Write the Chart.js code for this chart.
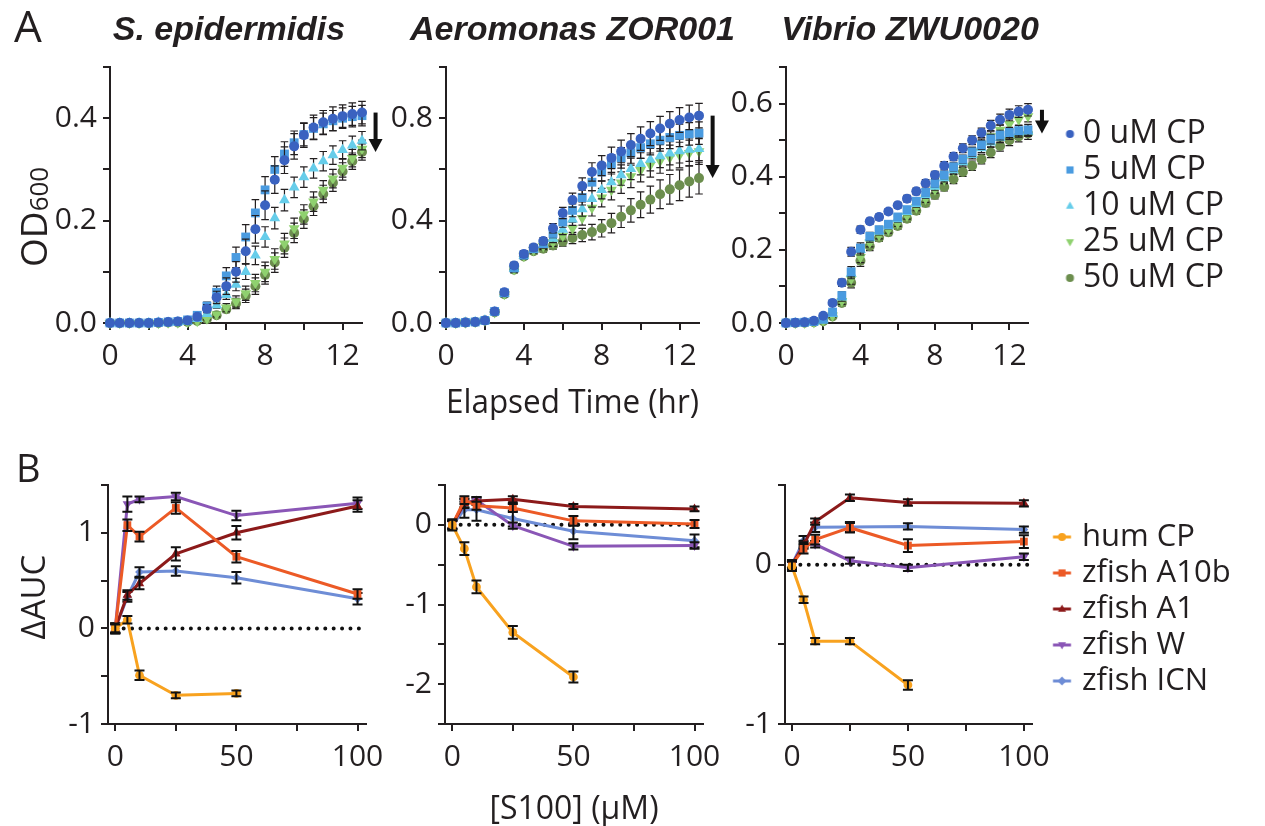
<!DOCTYPE html>
<html lang="en">
  <head>
    <meta charset="UTF-8" />
    <title>S100 growth curves and dAUC</title>
    <script src="https://cdn.jsdelivr.net/npm/chart.js"></script>
    <style>
      body { margin: 0; background: #fff; }
      #fig { position: relative; width: 1265px; height: 826px; }
      #fig canvas { position: absolute; }
    </style>
  </head>
  <body>
    <div id="fig">
      <canvas id="gEpi" width="400" height="420" style="left:0;top:0"></canvas>
      <canvas id="gAero" width="360" height="420" style="left:380px;top:0"></canvas>
      <canvas id="gVib" width="545" height="420" style="left:720px;top:0"></canvas>
      <canvas id="aEpi" width="400" height="406" style="left:0;top:420px"></canvas>
      <canvas id="aAero" width="360" height="406" style="left:380px;top:420px"></canvas>
      <canvas id="aVib" width="545" height="406" style="left:720px;top:420px"></canvas>
    </div>

    <script>
      // ---- growth curves (OD600 vs hours) ----
      const hours = [0, 0.5, 1, 1.5, 2, 2.5, 3, 3.5, 4, 4.5, 5, 5.5, 6, 6.5, 7, 7.5, 8, 8.5, 9, 9.5, 10, 10.5, 11, 11.5, 12, 12.5, 13];

      const epi0 = [0, 0, 0, 0, 0, 0.001, 0.002, 0.003, 0.005, 0.012, 0.028, 0.05, 0.072, 0.1, 0.14, 0.183, 0.23, 0.28, 0.318, 0.345, 0.367, 0.382, 0.392, 0.399, 0.404, 0.408, 0.411];
      const epi5 = [0, 0, 0, 0, 0, 0.001, 0.002, 0.003, 0.006, 0.015, 0.033, 0.06, 0.092, 0.128, 0.168, 0.215, 0.26, 0.3, 0.33, 0.352, 0.368, 0.38, 0.389, 0.395, 0.4, 0.403, 0.405];
      const epi10 = [0, 0, 0, 0, 0, 0.001, 0.001, 0.002, 0.003, 0.008, 0.018, 0.035, 0.055, 0.075, 0.1, 0.132, 0.168, 0.205, 0.24, 0.265, 0.285, 0.302, 0.316, 0.328, 0.338, 0.347, 0.356];
      const epi25 = [0, 0, 0, 0, 0, 0, 0.001, 0.001, 0.002, 0.004, 0.009, 0.017, 0.03, 0.042, 0.058, 0.078, 0.1, 0.125, 0.155, 0.185, 0.212, 0.237, 0.26, 0.282, 0.303, 0.322, 0.34];
      const epi50 = [0, 0, 0, 0, 0, 0, 0.001, 0.001, 0.002, 0.004, 0.008, 0.015, 0.027, 0.038, 0.053, 0.072, 0.094, 0.118, 0.147, 0.176, 0.203, 0.228, 0.252, 0.274, 0.296, 0.316, 0.334];
      const epi0Err = [0, 0, 0, 0, 0, 0, 0, 0.001, 0.002, 0.004, 0.008, 0.012, 0.016, 0.02, 0.024, 0.027, 0.028, 0.027, 0.026, 0.025, 0.024, 0.024, 0.023, 0.023, 0.022, 0.022, 0.022];
      const epi5Err = [0, 0, 0, 0, 0, 0, 0, 0.001, 0.002, 0.004, 0.008, 0.012, 0.016, 0.02, 0.024, 0.026, 0.026, 0.025, 0.024, 0.023, 0.022, 0.021, 0.021, 0.02, 0.02, 0.02, 0.02];
      const epi10Err = [0, 0, 0, 0, 0, 0, 0, 0, 0.001, 0.002, 0.004, 0.006, 0.009, 0.012, 0.015, 0.018, 0.02, 0.021, 0.021, 0.02, 0.02, 0.019, 0.019, 0.018, 0.018, 0.018, 0.018];
      const epi25Err = [0, 0, 0, 0, 0, 0, 0, 0, 0.001, 0.002, 0.003, 0.005, 0.008, 0.011, 0.014, 0.017, 0.019, 0.02, 0.02, 0.02, 0.019, 0.019, 0.018, 0.018, 0.018, 0.017, 0.017];
      const epi50Err = [0, 0, 0, 0, 0, 0, 0, 0, 0.001, 0.002, 0.003, 0.005, 0.007, 0.01, 0.013, 0.016, 0.018, 0.019, 0.019, 0.019, 0.018, 0.018, 0.017, 0.017, 0.017, 0.016, 0.016];

      const aero0 = [0, 0, 0.002, 0.004, 0.01, 0.045, 0.12, 0.225, 0.27, 0.295, 0.32, 0.37, 0.43, 0.48, 0.535, 0.59, 0.615, 0.645, 0.67, 0.695, 0.72, 0.74, 0.76, 0.778, 0.793, 0.803, 0.81];
      const aero5 = [0, 0, 0.002, 0.004, 0.01, 0.045, 0.118, 0.215, 0.265, 0.29, 0.31, 0.35, 0.395, 0.44, 0.49, 0.55, 0.59, 0.62, 0.645, 0.665, 0.685, 0.7, 0.714, 0.725, 0.733, 0.739, 0.742];
      const aero10 = [0, 0, 0.002, 0.004, 0.01, 0.043, 0.115, 0.212, 0.263, 0.288, 0.305, 0.33, 0.365, 0.405, 0.445, 0.485, 0.52, 0.55, 0.578, 0.602, 0.622, 0.638, 0.652, 0.663, 0.671, 0.677, 0.68];
      const aero25 = [0, 0, 0.002, 0.004, 0.01, 0.042, 0.113, 0.21, 0.262, 0.285, 0.3, 0.315, 0.34, 0.37, 0.41, 0.45, 0.49, 0.52, 0.548, 0.573, 0.597, 0.617, 0.633, 0.646, 0.656, 0.664, 0.67];
      const aero50 = [0, 0, 0.002, 0.004, 0.01, 0.042, 0.112, 0.208, 0.26, 0.28, 0.29, 0.303, 0.318, 0.332, 0.344, 0.355, 0.37, 0.39, 0.415, 0.44, 0.462, 0.482, 0.503, 0.522, 0.538, 0.553, 0.566];
      const aero0Err = [0, 0, 0, 0, 0.002, 0.006, 0.01, 0.012, 0.012, 0.012, 0.014, 0.018, 0.022, 0.027, 0.032, 0.036, 0.039, 0.042, 0.044, 0.045, 0.046, 0.047, 0.047, 0.048, 0.048, 0.048, 0.048];
      const aero5Err = [0, 0, 0, 0, 0.002, 0.006, 0.01, 0.012, 0.012, 0.012, 0.014, 0.017, 0.021, 0.025, 0.029, 0.033, 0.036, 0.038, 0.04, 0.041, 0.042, 0.043, 0.043, 0.044, 0.044, 0.044, 0.044];
      const aero10Err = [0, 0, 0, 0, 0.002, 0.006, 0.01, 0.012, 0.012, 0.012, 0.013, 0.016, 0.02, 0.024, 0.028, 0.032, 0.035, 0.038, 0.04, 0.042, 0.043, 0.044, 0.045, 0.045, 0.046, 0.046, 0.046];
      const aero25Err = [0, 0, 0, 0, 0.002, 0.006, 0.01, 0.012, 0.012, 0.012, 0.013, 0.016, 0.02, 0.024, 0.028, 0.032, 0.036, 0.039, 0.042, 0.044, 0.046, 0.047, 0.048, 0.049, 0.05, 0.05, 0.05];
      const aero50Err = [0, 0, 0, 0, 0.002, 0.006, 0.01, 0.012, 0.012, 0.012, 0.013, 0.015, 0.018, 0.022, 0.026, 0.03, 0.034, 0.038, 0.042, 0.046, 0.05, 0.053, 0.056, 0.058, 0.06, 0.061, 0.062];

      const vib0 = [0, 0.001, 0.002, 0.006, 0.02, 0.055, 0.11, 0.195, 0.255, 0.278, 0.29, 0.305, 0.322, 0.34, 0.36, 0.382, 0.405, 0.43, 0.455, 0.478, 0.5, 0.52, 0.54, 0.556, 0.569, 0.578, 0.583];
      const vib5 = [0, 0.001, 0.002, 0.004, 0.01, 0.03, 0.075, 0.14, 0.205, 0.237, 0.255, 0.27, 0.29, 0.31, 0.333, 0.357, 0.382, 0.405, 0.427, 0.448, 0.468, 0.487, 0.503, 0.514, 0.521, 0.526, 0.528];
      const vib10 = [0, 0, 0.001, 0.003, 0.008, 0.025, 0.07, 0.135, 0.2, 0.232, 0.25, 0.265, 0.284, 0.304, 0.326, 0.35, 0.373, 0.396, 0.418, 0.44, 0.46, 0.478, 0.494, 0.506, 0.515, 0.521, 0.524];
      const vib25 = [0, 0, 0.001, 0.002, 0.006, 0.02, 0.06, 0.12, 0.18, 0.22, 0.24, 0.255, 0.273, 0.293, 0.316, 0.34, 0.365, 0.392, 0.418, 0.444, 0.468, 0.49, 0.51, 0.528, 0.544, 0.556, 0.565];
      const vib50 = [0, 0, 0.001, 0.002, 0.005, 0.018, 0.055, 0.11, 0.17, 0.21, 0.233, 0.248, 0.265, 0.285, 0.307, 0.328, 0.35, 0.372, 0.393, 0.413, 0.43, 0.448, 0.466, 0.484, 0.5, 0.51, 0.518];
      const vib0Err = [0, 0, 0, 0.001, 0.003, 0.006, 0.01, 0.012, 0.01, 0.008, 0.008, 0.008, 0.008, 0.009, 0.009, 0.01, 0.01, 0.011, 0.011, 0.012, 0.012, 0.013, 0.014, 0.015, 0.016, 0.016, 0.017];
      const vib5Err = [0, 0, 0, 0.001, 0.002, 0.005, 0.01, 0.014, 0.014, 0.011, 0.009, 0.008, 0.008, 0.008, 0.009, 0.009, 0.01, 0.01, 0.011, 0.011, 0.012, 0.012, 0.013, 0.013, 0.014, 0.014, 0.015];
      const vib10Err = [0, 0, 0, 0.001, 0.002, 0.005, 0.01, 0.014, 0.014, 0.011, 0.009, 0.008, 0.008, 0.008, 0.009, 0.009, 0.01, 0.01, 0.01, 0.011, 0.011, 0.012, 0.012, 0.013, 0.013, 0.013, 0.014];
      const vib25Err = [0, 0, 0, 0.001, 0.002, 0.004, 0.009, 0.014, 0.015, 0.012, 0.01, 0.009, 0.009, 0.009, 0.009, 0.01, 0.01, 0.011, 0.011, 0.012, 0.012, 0.013, 0.013, 0.014, 0.014, 0.015, 0.015];
      const vib50Err = [0, 0, 0, 0.001, 0.002, 0.004, 0.009, 0.014, 0.015, 0.012, 0.01, 0.009, 0.009, 0.009, 0.01, 0.01, 0.011, 0.011, 0.012, 0.012, 0.013, 0.013, 0.014, 0.014, 0.015, 0.015, 0.016];

      // ---- delta AUC vs [S100] ----
      const conc = [0, 5, 10, 25, 50, 100];

      const epiHum = [0, 0.09, -0.49, -0.7, -0.68, null];
      const epiA10b = [0, 1.08, 0.96, 1.26, 0.75, 0.36];
      const epiA1 = [0, 0.35, 0.47, 0.78, 1.0, 1.28];
      const epiW = [0, 1.3, 1.35, 1.38, 1.18, 1.31];
      const epiIcn = [0, 0.33, 0.59, 0.6, 0.53, 0.31];
      const epiHumErr = [0.04, 0.04, 0.05, 0.03, 0.03, null];
      const epiA10bErr = [0.05, 0.06, 0.05, 0.06, 0.06, 0.05];
      const epiA1Err = [0.05, 0.05, 0.06, 0.07, 0.07, 0.06];
      const epiWErr = [0.05, 0.08, 0.03, 0.04, 0.05, 0.06];
      const epiIcnErr = [0.05, 0.05, 0.05, 0.05, 0.06, 0.06];

      const aeroHum = [0, -0.3, -0.78, -1.35, -1.91, null];
      const aeroA10b = [0, 0.31, 0.24, 0.21, 0.05, 0.01];
      const aeroA1 = [0, 0.27, 0.3, 0.32, 0.23, 0.2];
      const aeroW = [0, 0.27, 0.31, -0.01, -0.27, -0.26];
      const aeroIcn = [0, 0.19, 0.19, 0.08, -0.08, -0.2];
      const aeroHumErr = [0.07, 0.08, 0.08, 0.08, 0.07, null];
      const aeroA10bErr = [0.05, 0.05, 0.05, 0.05, 0.06, 0.05];
      const aeroA1Err = [0.05, 0.06, 0.05, 0.04, 0.03, 0.03];
      const aeroWErr = [0.05, 0.05, 0.04, 0.04, 0.04, 0.04];
      const aeroIcnErr = [0.05, 0.1, 0.14, 0.1, 0.1, 0.08];

      const vibHum = [-0.01, -0.22, -0.48, -0.48, -0.755, null];
      const vibA10b = [0, 0.1, 0.157, 0.232, 0.12, 0.145];
      const vibA1 = [0, 0.12, 0.27, 0.42, 0.39, 0.385];
      const vibW = [0, 0.13, 0.128, 0.025, -0.02, 0.05];
      const vibIcn = [0, 0.15, 0.235, 0.237, 0.24, 0.22];
      const vibHumErr = [0.03, 0.02, 0.02, 0.02, 0.03, null];
      const vibA10bErr = [0.03, 0.03, 0.03, 0.03, 0.04, 0.04];
      const vibA1Err = [0.02, 0.02, 0.02, 0.02, 0.02, 0.02];
      const vibWErr = [0.02, 0.02, 0.02, 0.02, 0.02, 0.02];
      const vibIcnErr = [0.03, 0.03, 0.03, 0.03, 0.02, 0.02];

      // ---- ticks and labels ----
      const hourTicks = [0, 2, 4, 6, 8, 10, 12];
      const hourLabels = ["0", "", "4", "", "8", "", "12"];
      const epiTicks = [0, 0.1, 0.2, 0.3, 0.4, 0.5];
      const epiLabels = ["0.0", "", "0.2", "", "0.4", ""];
      const aeroTicks = [0, 0.2, 0.4, 0.6, 0.8, 1.0];
      const aeroLabels = ["0.0", "", "0.4", "", "0.8", ""];
      const vibTicks = [0, 0.1, 0.2, 0.3, 0.4, 0.5, 0.6, 0.7];
      const vibLabels = ["0.0", "", "0.2", "", "0.4", "", "0.6", ""];
      const concTicks = [0, 25, 50, 75, 100];
      const concLabels = ["0", "", "50", "", "100"];
      const aucEpiTicks = [-1, -0.5, 0, 0.5, 1, 1.5];
      const aucEpiLabels = ["-1", "", "0", "", "1", ""];
      const aucAeroTicks = [-2.5, -2, -1.5, -1, -0.5, 0, 0.5];
      const aucAeroLabels = ["", "-2", "", "-1", "", "0", ""];
      const aucVibTicks = [-1, -0.5, 0, 0.5];
      const aucVibLabels = ["-1", "", "0", ""];

      const cpNames = ["0 uM CP", "5 uM CP", "10 uM CP", "25 uM CP", "50 uM CP"];
      const cpColors = ["#3a62c0", "#4a9be0", "#66cdea", "#8fd16f", "#6c8e4e"];
      const cpMarkers = ["circle", "rect", "triangle", "triangleDown", "circle"];
      const s100Names = ["hum CP", "zfish A10b", "zfish A1", "zfish W", "zfish ICN"];
      const s100Colors = ["#f8a21f", "#ec5a26", "#8c1a1a", "#8a56b6", "#6e8dd6"];
      const s100Markers = ["circle", "rect", "triangle", "triangleDown", "rectRot"];

      const FONT = '"Open Sans", "Liberation Sans", sans-serif';
      const TITLE_FONT = '"Liberation Sans", Arial, sans-serif';
      const INK = "#231f20";

      Chart.defaults.font.family = FONT;
      Chart.defaults.color = INK;
      Chart.defaults.animation = false;
      Chart.defaults.plugins.tooltip.enabled = false;
      Chart.defaults.plugins.legend.display = false;

      // error bars, drawn under (growth) or over (AUC) each dataset
      function errorBars(opt) {
        function draw(chart, index) {
          const ds = chart.data.datasets[index];
          const meta = chart.getDatasetMeta(index);
          const y = chart.scales.y;
          const ctx = chart.ctx;
          ctx.save();
          ctx.strokeStyle = opt.color;
          ctx.lineWidth = opt.width;
          ctx.beginPath();
          meta.data.forEach((pt, i) => {
            const v = ds.data[i].y;
            const e = ds.errors[i];
            if (v === null || !e) return;
            const t = y.getPixelForValue(v + e);
            const b = y.getPixelForValue(v - e);
            ctx.moveTo(pt.x, t); ctx.lineTo(pt.x, b);
            ctx.moveTo(pt.x - opt.cap, t); ctx.lineTo(pt.x + opt.cap, t);
            ctx.moveTo(pt.x - opt.cap, b); ctx.lineTo(pt.x + opt.cap, b);
          });
          ctx.stroke();
          ctx.restore();
        }
        return {
          id: "errorBars",
          beforeDatasetDraw(chart, args) { if (!opt.above) draw(chart, args.index); },
          afterDatasetDraw(chart, args) { if (opt.above) draw(chart, args.index); },
        };
      }

      // dotted line at y = 0
      const zeroLine = {
        id: "zeroLine",
        beforeDatasetsDraw(chart) {
          const { ctx, chartArea, scales } = chart;
          const py = scales.y.getPixelForValue(0);
          ctx.save();
          ctx.setLineDash([0, 8.4]);
          ctx.lineCap = "round";
          ctx.lineWidth = 4;
          ctx.strokeStyle = "#111";
          ctx.beginPath();
          ctx.moveTo(scales.x.getPixelForValue(0), py);
          ctx.lineTo(chartArea.right, py);
          ctx.stroke();
          ctx.restore();
        },
      };

      // arrow from the highest to the lowest end point
      function dropArrow(dx) {
        return {
          id: "dropArrow",
          afterDraw(chart) {
            const ends = chart.data.datasets.map((ds) => ds.data[ds.data.length - 1]);
            const vals = ends.map((p) => p.y);
            const { x, y } = chart.scales;
            const px = x.getPixelForValue(ends[0].x + dx);
            const y1 = y.getPixelForValue(Math.max(...vals));
            const y2 = y.getPixelForValue(Math.min(...vals));
            const head = Math.min(13, y2 - y1);
            const ctx = chart.ctx;
            ctx.save();
            ctx.fillStyle = "#111";
            ctx.fillRect(px - 2, y1, 4, y2 - y1 - head + 1);
            ctx.beginPath();
            ctx.moveTo(px - 7, y2 - head);
            ctx.lineTo(px + 7, y2 - head);
            ctx.lineTo(px, y2);
            ctx.closePath();
            ctx.fill();
            ctx.restore();
          },
        };
      }

      // free text: panel letters, panel titles and y-axis titles
      function figText(items) {
        return {
          id: "figText",
          afterDraw(chart) {
            const ctx = chart.ctx;
            const fontOf = (p) => (p.style ? p.style + " " : "") + p.size + "px " + (p.family || FONT);
            items.forEach((item) => {
              ctx.save();
              ctx.translate(item.x, item.y);
              if (item.rotate) ctx.rotate(-Math.PI / 2);
              ctx.fillStyle = INK;
              ctx.textBaseline = "alphabetic";
              ctx.textAlign = "left";
              let total = 0;
              item.parts.forEach((p) => {
                ctx.font = fontOf(p);
                total += ctx.measureText(p.text).width;
              });
              let cx = item.align === "center" ? -total / 2 : 0;
              item.parts.forEach((p) => {
                ctx.font = fontOf(p);
                ctx.fillText(p.text, cx, p.dy || 0);
                cx += ctx.measureText(p.text).width;
              });
              ctx.restore();
            });
          },
        };
      }
      const titleText = (text, x) => ({
        x: x, y: 40, align: "center",
        parts: [{ text: text, size: 34, style: "italic bold", family: TITLE_FONT }],
      });

      function markerPath(g, style, x, y, r) {
        g.beginPath();
        if (style === "circle") {
          g.arc(x, y, r, 0, Math.PI * 2);
        } else if (style === "rect") {
          g.rect(x - r * 0.9, y - r * 0.9, r * 1.8, r * 1.8);
        } else if (style === "rectRot") {
          g.moveTo(x, y - r * 1.1); g.lineTo(x + r * 1.1, y); g.lineTo(x, y + r * 1.1); g.lineTo(x - r * 1.1, y);
        } else if (style === "triangle") {
          g.moveTo(x, y - r * 1.1); g.lineTo(x + r, y + r * 0.7); g.lineTo(x - r, y + r * 0.7);
        } else {
          g.moveTo(x, y + r * 1.1); g.lineTo(x + r, y - r * 0.7); g.lineTo(x - r, y - r * 0.7);
        }
        g.closePath();
        g.fill();
      }

      function legendIcon(color, style, mx, lineHalf) {
        const c = document.createElement("canvas");
        c.width = 60;
        c.height = 16;
        const g = c.getContext("2d");
        if (lineHalf) {
          g.strokeStyle = color;
          g.lineWidth = 3;
          g.beginPath();
          g.moveTo(mx - lineHalf, 8);
          g.lineTo(mx + lineHalf, 8);
          g.stroke();
        }
        g.fillStyle = color;
        markerPath(g, style, mx, 8, 4);
        return c;
      }

      // width Chart.js gives a one-column legend
      function legendWidth(names, size, pad, box) {
        const g = document.createElement("canvas").getContext("2d");
        g.font = size + "px " + FONT;
        return pad + box + size / 2 + Math.max(...names.map((n) => g.measureText(n).width)) + 10;
      }

      function pointOpts(color, style, r) {
        const big = style === "rect" || style.startsWith("triangle");
        return {
          pointStyle: style === "triangleDown" ? "triangle" : style,
          pointRotation: style === "triangleDown" ? 180 : 0,
          pointRadius: big ? r * 1.25 : r,
          pointBorderWidth: 0,
          pointBackgroundColor: color,
          pointBorderColor: color,
          backgroundColor: color,
          borderColor: color,
          clip: false,
        };
      }

      function growthSets(series, errs) {
        return series.map((vals, i) => ({
          label: cpNames[i],
          data: hours.map((h, k) => ({ x: h, y: vals[k] })),
          errors: errs[i],
          showLine: false,
          ...pointOpts(cpColors[i], cpMarkers[i], 5),
        }));
      }

      function aucSets(series, errs) {
        return series.map((vals, i) => ({
          label: s100Names[i],
          data: conc.map((c, k) => ({ x: c, y: vals[k] })),
          errors: errs[i],
          borderWidth: 3,
          tension: 0,
          ...pointOpts(s100Colors[i], s100Markers[i], 4.4),
        }));
      }

      function axis(min, max, ticks, labels, pad, fit, title) {
        return {
          type: "linear",
          min: min,
          max: max,
          afterBuildTicks: (s) => { s.ticks = ticks.map((v) => ({ value: v })); },
          afterFit: fit,
          ticks: { autoSkip: false, maxRotation: 0, padding: pad, color: INK, font: { size: 30 }, callback: (v, i) => labels[i] },
          grid: { drawOnChartArea: false, color: INK, lineWidth: 2, tickLength: 7 },
          border: { color: INK, width: 2 },
          title: title || { display: false },
        };
      }
      const yFit = (w, top) => (s) => { s.width = w; s.paddingTop = top || 0; s.paddingBottom = 0; };
      const xFit = (h) => (s) => { s.height = h; s.paddingLeft = 0; s.paddingRight = 0; };
      const xTitle = (text) => ({ display: true, text: text, color: INK, font: { size: 32, lineHeight: 1 }, padding: 0 });

      const cpLegendW = legendWidth(cpNames, 32, 4, 35);
      const s100LegendW = legendWidth(s100Names, 31, 5, 29.5);

      function cpLegend() {
        const icons = cpColors.map((c, i) => legendIcon(c, cpMarkers[i], 50.5, 0));
        return {
          display: true, position: "right", maxWidth: cpLegendW + 1,
          labels: {
            usePointStyle: true, pointStyleWidth: 35, padding: 4, color: INK, font: { size: 32 },
            generateLabels: (chart) => chart.data.datasets.map((ds, i) => ({
              text: ds.label, pointStyle: icons[i], datasetIndex: i, fontColor: INK,
              fillStyle: ds.backgroundColor, strokeStyle: ds.backgroundColor, lineWidth: 0, hidden: false,
            })),
          },
        };
      }

      function s100Legend() {
        const icons = s100Colors.map((c, i) => legendIcon(c, s100Markers[i], 40.25, 9));
        return {
          display: true, position: "right", maxWidth: s100LegendW + 1,
          labels: {
            usePointStyle: true, pointStyleWidth: 29.5, padding: 5, color: INK, font: { size: 31 },
            generateLabels: (chart) => chart.data.datasets.map((ds, i) => ({
              text: ds.label, pointStyle: icons[i], datasetIndex: i, fontColor: INK,
              fillStyle: ds.backgroundColor, strokeStyle: ds.backgroundColor, lineWidth: 0, hidden: false,
            })),
          },
        };
      }

      const growthBars = { color: INK, width: 1.2, cap: 3.8, above: false };
      const aucBars = { color: "#111", width: 2, cap: 5, above: true };

      // ---- A: growth curves ----
      new Chart(document.getElementById("gEpi"), {
        type: "scatter",
        data: { datasets: growthSets([epi0, epi5, epi10, epi25, epi50], [epi0Err, epi5Err, epi10Err, epi25Err, epi50Err]) },
        options: {
          responsive: false,
          layout: { padding: { left: 0, right: 38, top: 0, bottom: 0 } },
          scales: {
            x: axis(0, 13, hourTicks, hourLabels, 8, xFit(97)),
            y: axis(0, 0.5, epiTicks, epiLabels, 6, yFit(110, 67)),
          },
        },
        plugins: [
          errorBars(growthBars), dropArrow(0.7),
          figText([
            titleText("S. epidermidis", 229),
            { x: 14, y: 42, parts: [{ text: "A", size: 44 }] },
            { x: 47, y: 267, rotate: true, parts: [{ text: "OD", size: 37 }, { text: "600", size: 26, dy: 1 }] },
          ]),
        ],
      });

      new Chart(document.getElementById("gAero"), {
        type: "scatter",
        data: { datasets: growthSets([aero0, aero5, aero10, aero25, aero50], [aero0Err, aero5Err, aero10Err, aero25Err, aero50Err]) },
        options: {
          responsive: false,
          layout: { padding: { left: 0, right: 41, top: 0, bottom: 0 } },
          scales: {
            x: axis(0, 13, hourTicks, hourLabels, 8, xFit(97), xTitle("Elapsed Time (hr)")),
            y: axis(0, 1.0, aeroTicks, aeroLabels, 6, yFit(66, 67)),
          },
        },
        plugins: [errorBars(growthBars), dropArrow(0.7), figText([titleText("Aeromonas ZOR001", 192.5)])],
      });

      new Chart(document.getElementById("gVib"), {
        type: "scatter",
        data: { datasets: growthSets([vib0, vib5, vib10, vib25, vib50], [vib0Err, vib5Err, vib10Err, vib25Err, vib50Err]) },
        options: {
          responsive: false,
          layout: { padding: { left: 0, right: 545 - 308 - cpLegendW, top: 0, bottom: 8 } },
          scales: {
            x: axis(0, 13, hourTicks, hourLabels, 8, xFit(89)),
            y: axis(0, 0.7, vibTicks, vibLabels, 6, yFit(66, 67)),
          },
          plugins: { legend: cpLegend() },
        },
        plugins: [errorBars(growthBars), dropArrow(0.75), figText([titleText("Vibrio ZWU0020", 190)])],
      });

      // ---- B: delta AUC ----
      new Chart(document.getElementById("aEpi"), {
        type: "line",
        data: { datasets: aucSets([epiHum, epiA10b, epiA1, epiW, epiIcn], [epiHumErr, epiA10bErr, epiA1Err, epiWErr, epiIcnErr]) },
        options: {
          responsive: false,
          layout: { padding: { left: 0, right: 34, top: 65, bottom: 0 } },
          scales: {
            x: axis(-3, 103.5, concTicks, concLabels, 8, xFit(102)),
            y: axis(-1, 1.5, aucEpiTicks, aucEpiLabels, 6, yFit(108)),
          },
        },
        plugins: [
          zeroLine, errorBars(aucBars),
          figText([
            { x: 16, y: 62, parts: [{ text: "B", size: 38 }] },
            { x: 45, y: 177, rotate: true, align: "center", parts: [{ text: "\u0394AUC", size: 33 }] },
          ]),
        ],
      });

      new Chart(document.getElementById("aAero"), {
        type: "line",
        data: { datasets: aucSets([aeroHum, aeroA10b, aeroA1, aeroW, aeroIcn], [aeroHumErr, aeroA10bErr, aeroA1Err, aeroWErr, aeroIcnErr]) },
        options: {
          responsive: false,
          layout: { padding: { left: 0, right: 37, top: 65, bottom: 0 } },
          scales: {
            x: axis(-3, 103.5, concTicks, concLabels, 8, xFit(102), xTitle("[S100] (\u00b5M)")),
            y: axis(-2.5, 0.5, aucAeroTicks, aucAeroLabels, 6, yFit(65)),
          },
        },
        plugins: [zeroLine, errorBars(aucBars)],
      });

      new Chart(document.getElementById("aVib"), {
        type: "line",
        data: { datasets: aucSets([vibHum, vibA10b, vibA1, vibW, vibIcn], [vibHumErr, vibA10bErr, vibA1Err, vibWErr, vibIcnErr]) },
        options: {
          responsive: false,
          layout: { padding: { left: 0, right: 545 - 312 - s100LegendW, top: 0, bottom: 28 } },
          scales: {
            x: axis(-3, 103.5, concTicks, concLabels, 8, xFit(74)),
            y: axis(-1, 0.5, aucVibTicks, aucVibLabels, 6, yFit(65, 65)),
          },
          plugins: { legend: s100Legend() },
        },
        plugins: [zeroLine, errorBars(aucBars)],
      });
    </script>
  </body>
</html>
